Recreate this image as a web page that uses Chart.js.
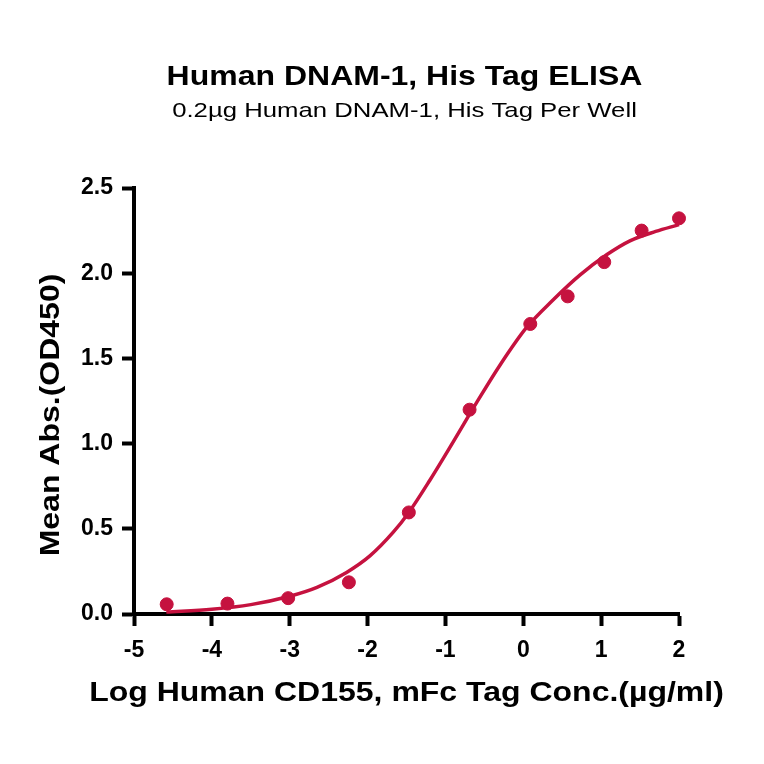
<!DOCTYPE html>
<html>
<head>
<meta charset="utf-8">
<script src="https://cdn.jsdelivr.net/npm/chart.js@4.4.1/dist/chart.umd.min.js"></script>
<style>
  body { margin: 0; background: #fff; }
  canvas { display: block; }
</style>
</head>
<body>
<canvas id="elisa-chart" width="764" height="764"></canvas>
<script>
// measured points (log concentration vs mean OD450)
const logConc = [-4.58, -3.80, -3.02, -2.24, -1.47, -0.69, 0.09, 0.57, 1.04, 1.52, 2.0];
const meanAbs = [0.057, 0.061, 0.093, 0.186, 0.596, 1.199, 1.702, 1.864, 2.065, 2.25, 2.322];

// fitted curve
const fitX = [-4.585, -4.0, -3.5, -3.0, -2.65, -2.27, -1.97, -1.67, -1.47, -1.2, -0.9, -0.6, -0.3, 0.04, 0.385, 0.73, 1.07, 1.37, 1.7, 2.0];
const fitY = [0.012, 0.028, 0.055, 0.104, 0.156, 0.244, 0.341, 0.48, 0.596, 0.785, 1.01, 1.24, 1.46, 1.68, 1.844, 1.99, 2.108, 2.19, 2.245, 2.285];

const xTicks = [-5, -4, -3, -2, -1, 0, 1, 2];
const yTicks = [0, 0.5, 1.0, 1.5, 2.0, 2.5];

const title = 'Human DNAM-1, His Tag ELISA';
const subtitle = '0.2µg Human DNAM-1, His Tag Per Well';
const xTitle = 'Log Human CD155, mFc Tag Conc.(µg/ml)';
const yTitle = 'Mean Abs.(OD450)';

const red = '#c5123f';
const fontName = '"Liberation Sans", Arial, sans-serif';

// text in the reference is a bit wider than plain Arial, so stretch it
function stretchText(ctx, text, x, y, font, sx, angle) {
  ctx.save();
  ctx.translate(x, y);
  if (angle) ctx.rotate(angle);
  ctx.scale(sx, 1);
  ctx.font = font;
  ctx.fillStyle = '#000';
  ctx.textAlign = 'center';
  ctx.textBaseline = 'alphabetic';
  ctx.fillText(text, 0, 0);
  ctx.restore();
}

const labelPlugin = {
  id: 'labels',
  afterDraw(chart) {
    const { ctx, chartArea } = chart;
    const cx = (chartArea.left + chartArea.right) / 2;
    stretchText(ctx, title, cx - 2, 84.5, 'bold 27px ' + fontName, 1.185);
    stretchText(ctx, subtitle, cx - 2, 116.7, '21px ' + fontName, 1.225);
    stretchText(ctx, xTitle, cx, 700.7, 'bold 27px ' + fontName, 1.185);
    stretchText(ctx, yTitle, 58.5, 415, 'bold 27px ' + fontName, 1.185, -Math.PI / 2);
  }
};

const ctx = document.getElementById('elisa-chart').getContext('2d');
new Chart(ctx, {
  type: 'scatter',
  data: {
    datasets: [{
      label: 'Measured',
      data: logConc.map((x, i) => ({ x: x, y: meanAbs[i] })),
      backgroundColor: red,
      borderColor: red,
      pointRadius: 6.5,
      pointHoverRadius: 6.5,
      showLine: false,
      clip: false
    }, {
      label: 'Fit',
      data: fitX.map((x, i) => ({ x: x, y: fitY[i] })),
      borderColor: red,
      borderWidth: 3.5,
      pointRadius: 0,
      showLine: true,
      cubicInterpolationMode: 'monotone',
      clip: false
    }]
  },
  options: {
    responsive: false,
    animation: false,
    devicePixelRatio: 1,
    layout: { padding: { top: 188, right: 85, left: 0, bottom: 0 } },
    plugins: {
      legend: { display: false },
      tooltip: { enabled: false },
      title: { display: false }
    },
    scales: {
      x: {
        type: 'linear',
        min: -5,
        max: 2,
        afterFit: (scale) => { scale.height = 150; },
        afterBuildTicks: (scale) => { scale.ticks = xTicks.map(v => ({ value: v })); },
        grid: { drawOnChartArea: false, drawTicks: true, tickLength: 12, tickWidth: 4, tickColor: '#000' },
        border: { display: true, color: '#000', width: 4 },
        ticks: {
          color: '#000',
          padding: 11,
          maxRotation: 0,
          font: { family: fontName, size: 23, weight: 'bold' },
          callback: (v) => String(v)
        }
      },
      y: {
        type: 'linear',
        min: 0,
        max: 2.5,
        afterFit: (scale) => { scale.width = 134; },
        afterBuildTicks: (scale) => { scale.ticks = yTicks.map(v => ({ value: v })); },
        grid: { drawOnChartArea: false, drawTicks: true, tickLength: 12, tickWidth: 4, tickColor: '#000' },
        border: { display: true, color: '#000', width: 4 },
        ticks: {
          color: '#000',
          padding: 9,
          font: { family: fontName, size: 23, weight: 'bold' },
          callback: (v) => Number(v).toFixed(1)
        }
      }
    }
  },
  plugins: [labelPlugin]
});
</script>
</body>
</html>
